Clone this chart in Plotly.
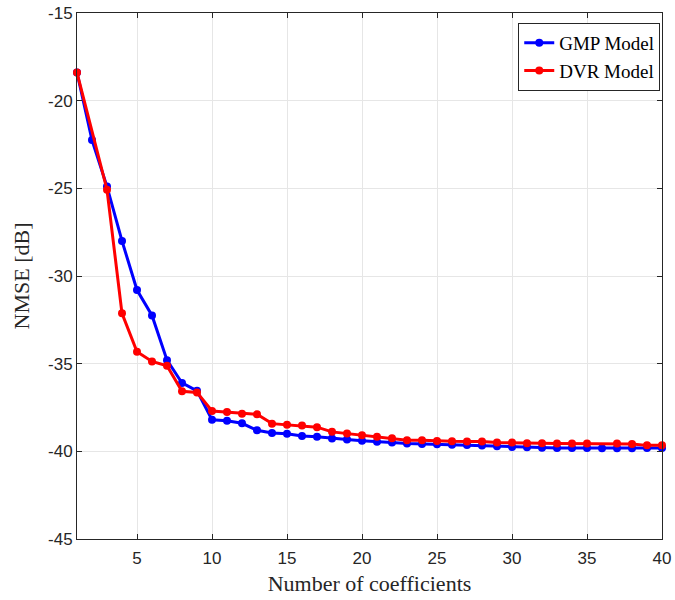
import plotly.graph_objects as go

gmp_x = list(range(1, 41))
gmp_y = [-18.4, -22.25, -24.9, -28.0, -30.8, -32.25, -34.8, -36.1, -36.55, -38.2,
         -38.25, -38.4, -38.8, -38.95, -39.0, -39.12, -39.17, -39.27, -39.33, -39.39,
         -39.46, -39.50, -39.55, -39.58, -39.60, -39.62, -39.64, -39.67, -39.71, -39.75,
         -39.77, -39.79, -39.81, -39.81, -39.81, -39.83, -39.83, -39.83, -39.81, -39.81]

dvr_x = [1, 3, 4, 5, 6, 7, 8, 9, 10, 11, 12, 13, 14, 15, 16, 17, 18, 19, 20, 21, 22,
         23, 24, 25, 26, 27, 28, 29, 30, 31, 32, 33, 34, 35, 37, 38, 39, 40]
dvr_y = [-18.4, -25.08, -32.13, -34.32, -34.87, -35.12, -36.58, -36.64, -37.70, -37.76,
         -37.86, -37.89, -38.42, -38.49, -38.53, -38.62, -38.89, -38.98, -39.08, -39.17,
         -39.25, -39.37, -39.37, -39.41, -39.43, -39.44, -39.44, -39.50, -39.50, -39.54,
         -39.54, -39.56, -39.56, -39.56, -39.56, -39.58, -39.66, -39.66]

x_ticks = [5, 10, 15, 20, 25, 30, 35, 40]
x_tick_labels = ["5", "10", "15", "20", "25", "30", "35", "40"]
y_ticks = [-45, -40, -35, -30, -25, -20, -15]
y_tick_labels = ["-45", "-40", "-35", "-30", "-25", "-20", "-15"]

fig = go.Figure()
fig.add_trace(go.Scatter(x=gmp_x, y=gmp_y, mode="lines+markers", name="GMP Model",
                         line=dict(color="#0000FF", width=3),
                         marker=dict(color="#0000FF", size=8), cliponaxis=False))
fig.add_trace(go.Scatter(x=dvr_x, y=dvr_y, mode="lines+markers", name="DVR Model",
                         line=dict(color="#FF0000", width=3),
                         marker=dict(color="#FF0000", size=8), cliponaxis=False))

axis_common = dict(
    showline=True, linecolor="#262626", linewidth=1, mirror="ticks",
    ticks="inside", ticklen=5, tickcolor="#262626",
    showgrid=True, gridcolor="#e6e6e6", gridwidth=1, zeroline=False,
    automargin=False,
    tickfont=dict(family="Liberation Sans, Arial", size=17, color="#262626"),
)

title_font = dict(family="Liberation Serif, DejaVu Serif", size=22, color="#262626")

fig.update_layout(
    width=675, height=600,
    margin=dict(l=77, r=13, t=13, b=61),
    paper_bgcolor="white", plot_bgcolor="white",
    xaxis=dict(range=[1, 40], tickvals=x_ticks, ticktext=x_tick_labels,
               ticklabelstandoff=4,
               title=dict(text="Number of coefficients", standoff=8, font=title_font),
               **axis_common),
    yaxis=dict(range=[-45, -15], tickvals=y_ticks, ticktext=y_tick_labels,
               title=dict(text="NMSE [dB]", standoff=12, font=title_font),
               **axis_common),
    legend=dict(x=0.997, y=0.981, xanchor="right", yanchor="top",
                bgcolor="white", bordercolor="#262626", borderwidth=1,
                font=dict(family="Liberation Serif, DejaVu Serif", size=19, color="black"),
                tracegroupgap=0, itemwidth=30),
    showlegend=True,
)

fig.write_html("out.html")
